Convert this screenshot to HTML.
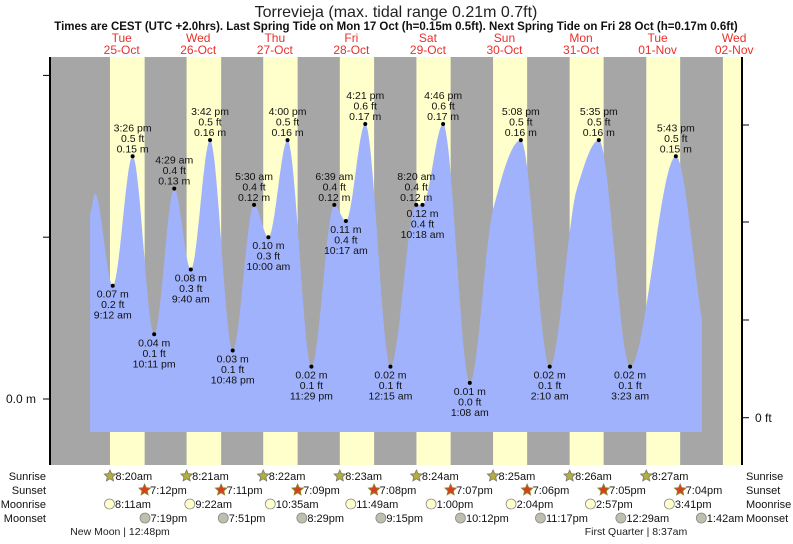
<!DOCTYPE html>
<html><head><meta charset="utf-8"><style>
html,body{margin:0;padding:0;background:#fff;}
svg text{font-family:"Liberation Sans",sans-serif;}
</style></head><body>
<svg id="chart" width="793" height="539" viewBox="0 0 793 539" xmlns="http://www.w3.org/2000/svg">
<text x="396" y="17" text-anchor="middle" font-size="16" fill="#222">Torrevieja (max. tidal range 0.21m 0.7ft)</text>
<text x="396" y="30" text-anchor="middle" font-size="11.5" font-weight="bold" fill="#111">Times are CEST (UTC +2.0hrs). Last Spring Tide on Mon 17 Oct (h=0.15m 0.5ft). Next Spring Tide on Fri 28 Oct (h=0.17m 0.6ft)</text>
<g id="days"></g>
<path id="tide" fill="#a0b2fc"/>
<g id="marks"></g>
<g id="axes"></g>
<g id="astro"></g>
</svg>
<script>
// hours since 25-Oct 00:00
const dayNames = ["Tue","Wed","Thu","Fri","Sat","Sun","Mon","Tue","Wed"];
const dayDates = ["25-Oct","26-Oct","27-Oct","28-Oct","29-Oct","30-Oct","31-Oct","01-Nov","02-Nov"];
const tideTimes = [9.2,15.43,22.18,28.48,33.67,39.7,46.8,53.5,58.0,64.0,71.48,78.65,82.28,88.35,96.25,104.33,106.3,112.77,121.13,137.13,146.17,161.58,171.38,185.72];
const tideHeights = [0.07,0.15,0.04,0.13,0.08,0.16,0.03,0.12,0.10,0.16,0.02,0.12,0.11,0.17,0.02,0.12,0.12,0.17,0.01,0.16,0.02,0.16,0.02,0.15];
const tideFt = ["0.2","0.5","0.1","0.4","0.3","0.5","0.1","0.4","0.3","0.5","0.1","0.4","0.4","0.6","0.1","0.4","0.4","0.6","0.0","0.5","0.1","0.5","0.1","0.5"];
const tideLabels = ["9:12 am","3:26 pm","10:11 pm","4:29 am","9:40 am","3:42 pm","10:48 pm","5:30 am","10:00 am","4:00 pm","11:29 pm","6:39 am","10:17 am","4:21 pm","12:15 am","8:20 am","10:18 am","4:46 pm","1:08 am","5:08 pm","2:10 am","5:35 pm","3:23 am","5:43 pm"];
const tideIsHigh = [0,1,0,1,0,1,0,1,0,1,0,1,0,1,0,1,0,1,0,1,0,1,0,1];
// extra unlabeled curve shape points
const shapeTimes = [2.1,3.6,128.4,154.7,193.9];
const shapeHeights = [0.115,0.127,0.117,0.13,0.049];
const sunriseH = [8.33,8.35,8.37,8.38,8.4,8.42,8.43,8.45,8.47];
const sunriseL = ["8:20am","8:21am","8:22am","8:23am","8:24am","8:25am","8:26am","8:27am"];
const sunsetH = [19.2,19.18,19.15,19.13,19.12,19.1,19.08,19.07];
const sunsetL = ["7:12pm","7:11pm","7:09pm","7:08pm","7:07pm","7:06pm","7:05pm","7:04pm"];
const moonriseT = [8.18,33.37,58.58,83.82,109.0,134.07,158.95,183.68];
const moonriseL = ["8:11am","9:22am","10:35am","11:49am","1:00pm","2:04pm","2:57pm","3:41pm"];
const moonsetT = [19.32,43.85,68.48,93.25,118.2,143.28,168.48,193.7];
const moonsetL = ["7:19pm","7:51pm","8:29pm","9:15pm","10:12pm","11:17pm","12:29am","1:42am"];

const NS="http://www.w3.org/2000/svg";
const X0=50,X1=742,Y0=57,Y1=465,BASE=432;
const x=t=>83.4+t*3.19;
const y=m=>399-m*1618;
function el(tag,attrs,parent,txt){const e=document.createElementNS(NS,tag);for(const k in attrs)e.setAttribute(k,attrs[k]);if(txt!==undefined)e.textContent=txt;parent.appendChild(e);return e;}

const days=document.getElementById('days');
const bg=el('rect',{x:X0,y:Y0,width:X1-X0,height:Y1-Y0,fill:'#a6a6a6'},days);


for(let d=0;d<9;d++){
  const a=x(d*24+sunriseH[d]);
  const b=d<8?x(d*24+sunsetH[d]):X1;
  const r=el('rect',{x:a,y:Y0,width:Math.min(b,X1)-a,height:Y1-Y0,fill:'#ffffcc'},days);
  
  
  const cx=x(d*24+12);
  const t1=el('text',{x:cx,y:42,'text-anchor':'middle','font-size':12,fill:'#e8302a'},days,dayNames[d]);
  
  
  const t2=el('text',{x:cx,y:54,'text-anchor':'middle','font-size':12,fill:'#e8302a'},days,dayDates[d]);
  
  
}

let pts=tideTimes.map((t,i)=>[t,tideHeights[i]]).concat(shapeTimes.map((t,i)=>[t,shapeHeights[i]]));
pts.sort((a,b)=>a[0]-b[0]);
const n=pts.length,h=[],dl=[],m=[];
for(let i=0;i<n-1;i++){h[i]=pts[i+1][0]-pts[i][0];dl[i]=(pts[i+1][1]-pts[i][1])/h[i];}
for(let i=0;i<n;i++){
  if(i==0)m[i]=0;else if(i==n-1)m[i]=dl[n-2];
  else if(dl[i-1]*dl[i]<=0)m[i]=0;
  else{const w1=2*h[i]+h[i-1],w2=h[i]+2*h[i-1];m[i]=(w1+w2)/(w1/dl[i-1]+w2/dl[i]);}
}
let d='M'+x(pts[0][0])+','+BASE;
for(let i=0;i<n-1;i++){
  for(let s=0;s<=20;s++){
    const u=s/20,hh=h[i];
    const h00=2*u*u*u-3*u*u+1,h10=u*u*u-2*u*u+u,h01=-2*u*u*u+3*u*u,h11=u*u*u-u*u;
    const v=h00*pts[i][1]+h10*hh*m[i]+h01*pts[i+1][1]+h11*hh*m[i+1];
    d+=' L'+x(pts[i][0]+u*hh).toFixed(1)+','+y(v).toFixed(1);
  }
}
d+=' L'+x(pts[n-1][0])+','+BASE+' Z';
document.getElementById('tide').setAttribute('d',d);

const marks=document.getElementById('marks');
tideTimes.forEach((t,i)=>{
  const cx=x(t),cy=y(tideHeights[i]);
  const dot=el('circle',{cx:cx,cy:cy,r:2,fill:'#000'},marks);
  
  
  const lines=tideIsHigh[i]?[tideLabels[i],tideFt[i]+' ft',tideHeights[i].toFixed(2)+' m']:[tideHeights[i].toFixed(2)+' m',tideFt[i]+' ft',tideLabels[i]];
  const base=tideIsHigh[i]?cy-25:cy+12;
  lines.forEach((s,k)=>{
    const tx=el('text',{x:cx,y:base+k*10.5,'text-anchor':'middle','font-size':10.5,fill:'#111'},marks,s);
    
    
  });
});

const axes=document.getElementById('axes');
el('line',{x1:X0,y1:Y0,x2:X0,y2:Y1,stroke:'#000','stroke-width':2},axes);
el('line',{x1:X1,y1:Y0,x2:X1,y2:Y1,stroke:'#000','stroke-width':2},axes);
[0,0.1,0.2].forEach(v=>el('line',{x1:X0-7,y1:y(v),x2:X0,y2:y(v),stroke:'#000'},axes));
const lm=el('text',{x:36,y:403,'text-anchor':'end','font-size':12,fill:'#111'},axes,'0.0 m');


[417.7,320,222,125].forEach(v=>el('line',{x1:X1,y1:v,x2:X1+7,y2:v,stroke:'#000'},axes));
const lf=el('text',{x:755,y:422,'font-size':12,fill:'#111'},axes,'0 ft');



const astro=document.getElementById('astro');
const rows=[['Sunrise',480],['Sunset',494],['Moonrise',508],['Moonset',522]];
rows.forEach(r=>{
  const a=el('text',{x:46,y:r[1],'text-anchor':'end','font-size':11,fill:'#111'},astro,r[0]);
  
  
  const b=el('text',{x:746,y:r[1],'font-size':11,fill:'#111'},astro,r[0]);
  
  
});
function star(cx,cy,fill,stroke){
  let p='';for(let k=0;k<10;k++){const ang=-Math.PI/2+k*Math.PI/5,rr=k%2?2.8:6;p+=(cx+rr*Math.cos(ang)).toFixed(1)+','+(cy+rr*Math.sin(ang)).toFixed(1)+' ';}
  return el('polygon',{points:p,fill:fill,stroke:stroke,'stroke-width':0.8},astro);
}
function item(t,rowY,lbl,kind){
  const cx=x(t);
  let ic;
  if(kind==0)ic=star(cx,rowY-4,'#b4ae3c','#777');
  else if(kind==1)ic=star(cx,rowY-4,'#d8401c','#883');
  else ic=el('circle',{cx:cx,cy:rowY-4,r:5,fill:kind==2?'#ffffcc':'#c0bfae',stroke:'#888','stroke-width':0.8},astro);
  
  
  const tx=el('text',{x:cx+5.5,y:rowY,'font-size':11,fill:'#111'},astro,lbl);
  
  
}
sunriseL.forEach((s,i)=>item(i*24+sunriseH[i],480,s,0));
sunsetL.forEach((s,i)=>item(i*24+sunsetH[i],494,s,1));
moonriseL.forEach((s,i)=>item(moonriseT[i],508,s,2));
moonsetL.forEach((s,i)=>item(moonsetT[i],522,s,3));
const p1=el('text',{x:120,y:535,'text-anchor':'middle','font-size':10.5,fill:'#222'},astro,'New Moon | 12:48pm');


const p2=el('text',{x:636,y:535,'text-anchor':'middle','font-size':10.5,fill:'#222'},astro,'First Quarter | 8:37am');


</script>
</body></html>
